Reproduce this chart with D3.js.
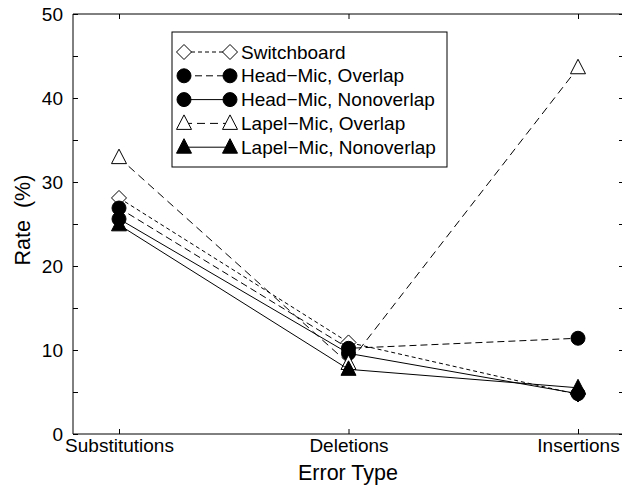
<!DOCTYPE html>
<html><head><meta charset="utf-8">
<script src="https://cdn.jsdelivr.net/npm/d3@7/dist/d3.min.js"></script>
<style>body{margin:0;background:#fff}svg{display:block}text{font-family:"Liberation Sans",Arial,sans-serif}</style>
</head><body><svg id="c" width="622" height="485"></svg>
<script>
const categories = ["Substitutions","Deletions","Insertions"];
const seriesNames = ["Switchboard","Head\u2212Mic, Overlap","Head\u2212Mic, Nonoverlap","Lapel\u2212Mic, Overlap","Lapel\u2212Mic, Nonoverlap"];
const switchboard = [28.1, 10.9, 4.7];
const headOverlap = [26.9, 10.2, 11.4];
const headNonoverlap = [25.6, 9.6, 4.8];
const lapelOverlap = [32.9, 8.4, 43.6];
const lapelNonoverlap = [24.9, 7.7, 5.5];
const yTicks = [0,10,20,30,40,50];

const styles = [
  {marker:"diamond", fill:"#fff", dash:"4,3"},
  {marker:"circle", fill:"#000", dash:"7,4"},
  {marker:"circle", fill:"#000", dash:null},
  {marker:"triangle", fill:"#fff", dash:"8,5"},
  {marker:"triangle", fill:"#000", dash:null}
];
const allSeries = [switchboard, headOverlap, headNonoverlap, lapelOverlap, lapelNonoverlap];

const svg = d3.select("#c");
const L=73, R=624, T=14, B=434;
const x = d3.scalePoint().domain(categories).range([119, 578]);
const y = d3.scaleLinear().domain([0,50]).range([B,T]);

// frame
const g = svg.append("g");
g.append("line").attr("x1",L).attr("x2",R).attr("y1",T).attr("y2",T).attr("stroke","#000");
g.append("line").attr("x1",L).attr("x2",R).attr("y1",B).attr("y2",B).attr("stroke","#000");
g.append("line").attr("x1",L).attr("x2",L).attr("y1",T).attr("y2",B).attr("stroke","#000");
g.append("line").attr("x1",R).attr("x2",R).attr("y1",T).attr("y2",B).attr("stroke","#000");

// y axis
const yAx = d3.axisLeft(y).tickValues(d3.range(0,51,5)).tickSize(-5).tickPadding(10)
  .tickFormat(d => yTicks.includes(d) ? d : "");
svg.append("g").attr("transform",`translate(${L},0)`).call(yAx)
  .call(s=>s.select(".domain").remove())
  .call(s=>s.selectAll("text").attr("font-size",19).attr("fill","#000"));
svg.append("g").attr("transform",`translate(${R},0)`).call(d3.axisRight(y).tickValues(d3.range(0,51,5)).tickSize(-5).tickFormat(""))
  .call(s=>s.select(".domain").remove());
// x axis
svg.append("g").attr("transform",`translate(0,${B})`).call(d3.axisBottom(x).tickSize(-5).tickPadding(5))
  .call(s=>s.select(".domain").remove())
  .call(s=>s.selectAll("text").attr("font-size",19).attr("fill","#000"));
svg.append("g").attr("transform",`translate(0,${T})`).call(d3.axisTop(x).tickSize(-5).tickFormat(""))
  .call(s=>s.select(".domain").remove());

svg.append("text").attr("x",348).attr("y",480).attr("text-anchor","middle").attr("font-size",21.5).text("Error Type");
svg.append("text").attr("transform","translate(30,220) rotate(-90)").attr("text-anchor","middle").attr("font-size",21.5)
  .attr("xml:space","preserve").style("white-space","pre").text("Rate  (%)");

function drawMarker(sel, type, cx, cy, fill){
  if(type==="circle"){
    sel.append("circle").attr("cx",cx).attr("cy",cy).attr("r",7).attr("fill",fill).attr("stroke","#000");
  } else if(type==="diamond"){
    const s=7.5;
    sel.append("path").attr("d",`M${cx},${cy-s}L${cx+s},${cy}L${cx},${cy+s}L${cx-s},${cy}Z`).attr("fill",fill).attr("stroke","#000");
  } else {
    const s=7.5;
    sel.append("path").attr("d",`M${cx},${cy-8.5}L${cx+s},${cy+6}L${cx-s},${cy+6}Z`).attr("fill",fill).attr("stroke","#000");
  }
}

const line = d3.line().x((d,i)=>x(categories[i])).y(d=>y(d));
allSeries.forEach((vals,k)=>{
  const st=styles[k];
  const sg=svg.append("g");
  sg.append("path").attr("d",line(vals)).attr("fill","none").attr("stroke","#000").attr("stroke-width",1)
    .attr("stroke-dasharray",st.dash);
  vals.forEach((v,i)=>drawMarker(sg, st.marker, x(categories[i]), y(v), st.fill));
});

// legend
const lg = svg.append("g");
lg.append("rect").attr("x",172).attr("y",32).attr("width",275).attr("height",135).attr("fill","#fff").attr("stroke","#000");
seriesNames.forEach((name,k)=>{
  const st=styles[k]; const cy=52+k*23.8;
  lg.append("line").attr("x1",184).attr("x2",230).attr("y1",cy).attr("y2",cy).attr("stroke","#000").attr("stroke-dasharray",st.dash);
  drawMarker(lg, st.marker, 184, cy, st.fill);
  drawMarker(lg, st.marker, 230, cy, st.fill);
  lg.append("text").attr("x",241).attr("y",cy+6.5).attr("font-size",19).text(name);
});
</script></body></html>
